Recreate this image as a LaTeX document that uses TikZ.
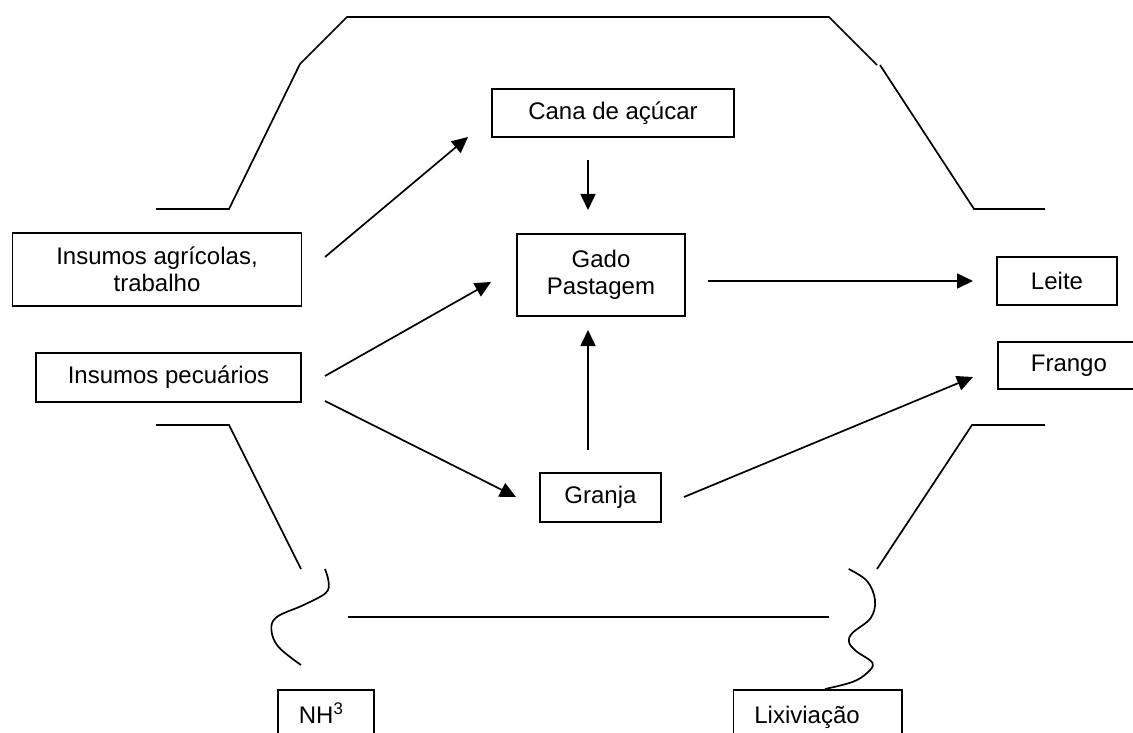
\documentclass[tikz,border=0pt]{standalone}
\usepackage{fontspec}
\setmainfont{Liberation Sans}
\usetikzlibrary{arrows.meta}
\begin{document}
\begin{tikzpicture}[x=1pt,y=-1pt,
  lw/.style={line width=1.7pt},
  box/.style={draw,lw,rectangle,inner sep=0pt,align=center,font=\fontsize{24}{27}\selectfont},
  flow/.style={lw,-{Triangle[length=16pt,width=15pt]}},
  outline/.style={lw,line join=miter}]
\useasboundingbox (0,0) rectangle (1133,733);
\clip (0,0) rectangle (1133,733);

% boxes
\node[box,minimum width=242pt,minimum height=48pt] (cana) at (613,113) {Cana de açúcar};
\node[box,minimum width=289pt,minimum height=73pt] (agr) at (157,269.5) {Insumos agrícolas,\\trabalho};
\node[box,minimum width=265pt,minimum height=49pt] (pec) at (168.5,377.5) {Insumos pecuários};
\node[box,minimum width=168pt,minimum height=82pt] (gado) at (601,275) {Gado\\Pastagem};
\node[box,minimum width=120pt,minimum height=48pt] (leite) at (1057,281) {Leite};
\node[box,anchor=west,minimum height=47pt,text width=180pt,align=left] (frango) at (997,365.5) {\hspace*{33pt}Frango};
\node[box,minimum width=121pt,minimum height=49pt] (granja) at (600.5,497.5) {Granja};
\node[box,anchor=north west,text width=96pt,align=left,text height=34pt,text depth=30pt] (nh) at (277,689) {\hspace*{21pt}NH\textsuperscript{3}};
\node[box,anchor=north west,text width=168.5pt,align=left,text height=34pt,text depth=30pt] (lix) at (732.5,689) {\hspace*{21pt}Lixiviação};

% connector end points
\coordinate (a1s) at (325,257);   \coordinate (a1e) at (468,137);
\coordinate (a2s) at (325,376);   \coordinate (a2e) at (491,282);
\coordinate (a3s) at (325,401);   \coordinate (a3e) at (516,497);
\coordinate (a4s) at (588,160);   \coordinate (a4e) at (588,210);
\coordinate (a5s) at (588,450);   \coordinate (a5e) at (588,330);
\coordinate (a6s) at (708,281);   \coordinate (a6e) at (973,281);
\coordinate (a7s) at (684,497);   \coordinate (a7e) at (973,377);

\draw[flow] (a1s) -- (a1e);
\draw[flow] (a2s) -- (a2e);
\draw[flow] (a3s) -- (a3e);
\draw[flow] (a4s) -- (a4e);
\draw[flow] (a5s) -- (a5e);
\draw[flow] (a6s) -- (a6e);
\draw[flow] (a7s) -- (a7e);

% outline of the system
\draw[outline] (156,209) -- (229,209) -- (300,64) -- (347,17) -- (829,17) -- (877,65);
\draw[outline] (880,65) -- (974,209) -- (1045,209);
\draw[outline] (156,425) -- (229,425) -- (301,569);
\draw[outline] (1045,425) -- (972,425) -- (877,569);
\draw[outline] (348,617) -- (829,617);
\draw[lw] plot[smooth,tension=0.6] coordinates {(325,569) (328.6,582) (325.7,593) (303.6,605) (276.8,617) (271.4,630) (278.6,647) (301,665)};
\draw[lw] plot[smooth,tension=0.6] coordinates {(848.7,569) (867,581) (875,600) (870.7,618) (852.4,633) (849,642) (856,651) (872.5,663) (867,673) (852.4,682) (825,689)};
\end{tikzpicture}
\end{document}
